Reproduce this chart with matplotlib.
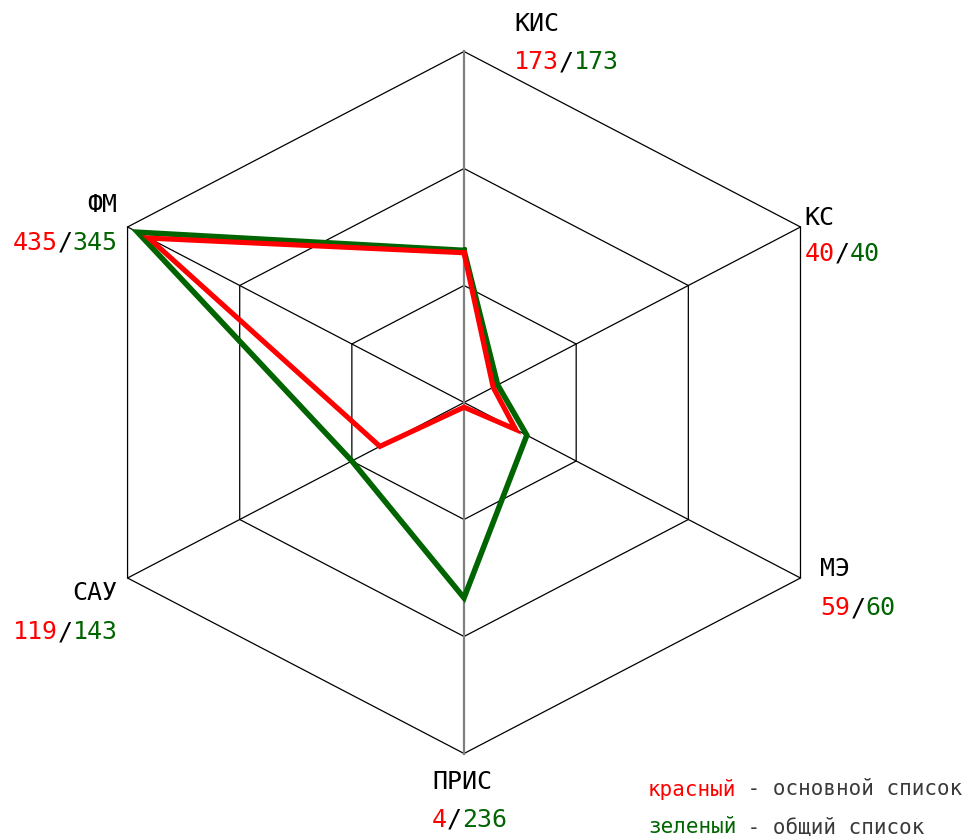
import numpy as np
import matplotlib.pyplot as plt
from matplotlib.offsetbox import TextArea, HPacker, AnnotationBbox

# axes of the hexagon, clockwise from the top
labels = ['КИС', 'КС', 'МЭ', 'ПРИС', 'САУ', 'ФМ']
angles = [90, 30, -30, -90, 210, 150]

# numbers printed next to each axis
red_counts = [173, 40, 59, 4, 119, 435]
green_counts = [173, 40, 60, 236, 143, 345]

# plotted radii (in grid rings, 3 = outer ring)
red_r = [1.28, 0.26, 0.46, 0.04, 0.75, 2.81]
green_r = [1.30, 0.30, 0.56, 1.67, 1.00, 2.91]

RED = '#ff0000'
GREEN = '#006400'
FONT = 'DejaVu Sans Mono'
FS = 18

fig = plt.figure(figsize=(9.7, 8.36), dpi=100)
ax = fig.add_axes([0, 0, 1, 1])
ax.set_xlim(-3.583, 3.907)
ax.set_ylim(-3.705, 3.440)
ax.axis('off')

th = np.radians(angles)
cx, cy = np.cos(th), np.sin(th)

# hexagon rings
for ring in [1, 2, 3]:
    ax.plot(np.append(cx, cx[0]) * ring, np.append(cy, cy[0]) * ring,
            color='black', lw=0.9, zorder=1)

# spokes
for i in range(6):
    if angles[i] in (90, -90):
        continue
    ax.plot([0, 3 * cx[i]], [0, 3 * cy[i]], color='black', lw=0.9, zorder=1)
ax.plot([0, 0], [-3, 3], color='#808080', lw=1.6, zorder=1)

# data polygons
for r, col, lw in [(green_r, GREEN, 4.0), (red_r, RED, 3.7)]:
    r = np.array(r)
    ax.plot(np.append(r * cx, r[0] * cx[0]), np.append(r * cy, r[0] * cy[0]),
            color=col, lw=lw, solid_joinstyle='miter', zorder=3)

# label placement: offset from outer vertex in pixels (dx, name dy, number dy), alignment
place = {
    'КИС': (50, 27, -11, 0),
    'КС': (4, 9, -27, 0),
    'МЭ': (20, 9, -30, 0),
    'ПРИС': (-32, -28, -66, 0),
    'САУ': (-10, -15, -54, 1),
    'ФМ': (-10, 22, -16, 1),
}

px2pt = 0.72
for i, name in enumerate(labels):
    dx, dy1, dy2, al = place[name]
    xy = (3 * cx[i], 3 * cy[i])
    ax.annotate(name, xy, xytext=(dx, dy1), textcoords='offset pixels',
                ha='left' if al == 0 else 'right', va='center',
                fontsize=FS, family=FONT, color='black')
    parts = [TextArea(str(red_counts[i]), textprops=dict(color=RED, fontsize=FS, family=FONT)),
             TextArea('/', textprops=dict(color='black', fontsize=FS, family=FONT)),
             TextArea(str(green_counts[i]), textprops=dict(color=GREEN, fontsize=FS, family=FONT))]
    box = HPacker(children=parts, align='baseline', pad=0, sep=0)
    ab = AnnotationBbox(box, xy, xybox=(dx * px2pt, dy2 * px2pt), boxcoords='offset points',
                        box_alignment=(al, 0.5), frameon=False, pad=0)
    ax.add_artist(ab)

# legend text
fig.text(648 / 970, 1 - 789 / 836, 'красный', color=RED, fontsize=15, family=FONT, va='center')
fig.text(648 / 970 + 7 * 12.4 / 970, 1 - 789 / 836, ' - основной список', color='#3a3a3a',
         fontsize=15, family=FONT, va='center')
fig.text(648 / 970, 1 - 827 / 836, 'зеленый', color=GREEN, fontsize=15, family=FONT, va='center')
fig.text(648 / 970 + 7 * 12.4 / 970, 1 - 827 / 836, ' - общий список', color='#3a3a3a',
         fontsize=15, family=FONT, va='center')

fig.savefig('out.png', dpi=100)
